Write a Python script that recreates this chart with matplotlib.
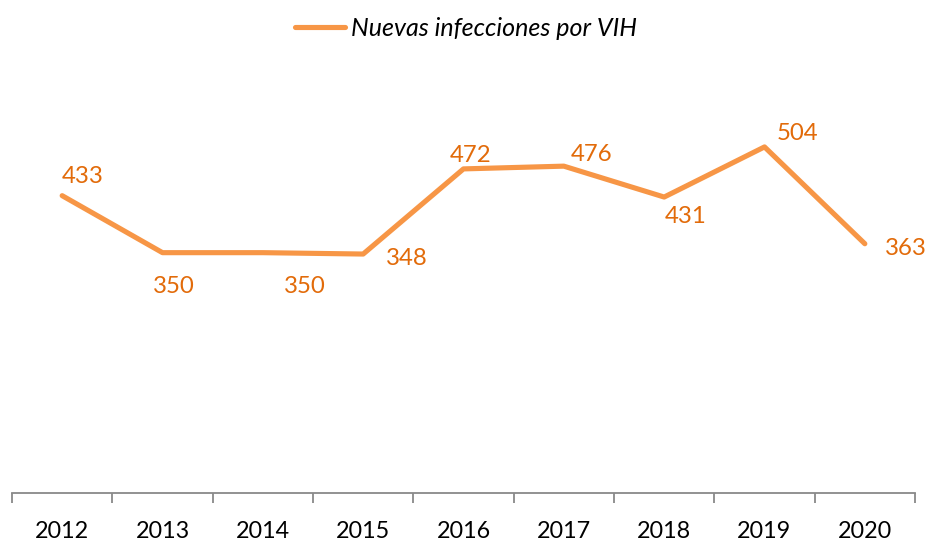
import matplotlib
matplotlib.use("Agg")
import matplotlib.pyplot as plt
from matplotlib.lines import Line2D

years = ["2012", "2013", "2014", "2015", "2016", "2017", "2018", "2019", "2020"]
values = [433, 350, 350, 348, 472, 476, 431, 504, 363]
series_name = "Nuevas infecciones por VIH"
# label placement offsets (pixels, converted to points below)
offsets_px = [(21, 19), (11, -34), (42, -34), (44, -4), (7, 13), (28, 12), (22, -19), (33, 13), (41, -5)]

plt.rcParams['font.family'] = ['Lato', 'DejaVu Sans']

line_color = "#F79646"
label_color = "#E26B0A"

fig = plt.figure(figsize=(9.3, 5.4), dpi=100)
ax = fig.add_axes([12/930, 47/540, 903/930, (493-81)/540])

x = list(range(len(years)))
ax.plot(x, values, color=line_color, lw=3.7, solid_joinstyle='round', solid_capstyle='round')
for i, (v, off) in enumerate(zip(values, offsets_px)):
    ax.annotate(str(v), (i, v), xytext=(off[0] * 0.72, off[1] * 0.72), textcoords='offset points',
                ha='center', va='center', color=label_color, fontsize=17.3)

ax.set_xlim(-0.5, len(years) - 0.5)
ax.set_ylim(0, 600)
ax.set_yticks([])
for s in ["top", "right", "left"]:
    ax.spines[s].set_visible(False)
ax.spines["bottom"].set_color("#898989")
ax.spines["bottom"].set_linewidth(1.3)
ax.set_xticks([i - 0.5 for i in range(len(years) + 1)], minor=False)
ax.set_xticklabels([])
ax.tick_params(axis='x', which='major', length=7, width=1.3, color="#898989", direction='out')
ax.set_xticks(x, minor=True)
ax.set_xticklabels(years, minor=True)
ax.tick_params(axis='x', which='minor', length=0, labelsize=16.8, pad=20, labelcolor="#000000")

handle = Line2D([0], [0], color=line_color, lw=3.7, solid_capstyle='round')
fig.legend([handle], [series_name], loc='center', bbox_to_anchor=(466/930, 1 - 28/540),
           frameon=False, prop={'style': 'italic', 'size': 18}, handlelength=2.0,
           handletextpad=0.25)

fig.savefig("out.png", dpi=100)
